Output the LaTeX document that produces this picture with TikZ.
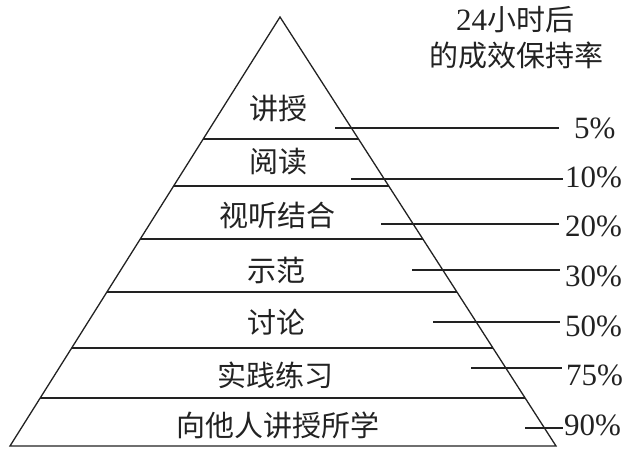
\documentclass[tikz,border=0pt]{standalone}
\usepackage{fontspec}
\setmainfont{Liberation Serif}
\newfontfamily\cjk{Noto Sans CJK SC}
\newfontfamily\lat{Liberation Serif}
\usetikzlibrary{calc}
\definecolor{inkc}{HTML}{222222}
\begin{document}
\begin{tikzpicture}[x=1pt,y=-1pt,
  ink/.style={line width=1.3pt, draw=inkc},
  layer/.style={font=\cjk\fontsize{29}{34}\selectfont, text=inkc, inner sep=0pt},
  pct/.style={font=\lat\fontsize{31}{36}\selectfont, text=inkc, inner sep=0pt, anchor=west},
  leader/.style={line width=1.3pt, draw=inkc}]
\useasboundingbox (0,0) rectangle (629,454);
% pyramid
\coordinate (A) at (280,17);
\coordinate (BL) at (10,446);
\coordinate (BR) at (556,446);
\draw[ink] (A) -- (BL) -- (BR) -- cycle;
\foreach \yy in {139,186,239,292,348,398}{
  \pgfmathsetmacro\t{(\yy-17)/429}
  \draw[ink] ($(A)!\t!(BL)$) -- ($(A)!\t!(BR)$);
}
% layer texts
\node[layer] (l1) at (278,108) {讲授};
\node[layer] (l2) at (278,161.5) {阅读};
\node[layer] (l3) at (277,215) {视听结合};
\node[layer] (l4) at (276,270) {示范};
\node[layer] (l5) at (276,322) {讨论};
\node[layer] (l6) at (275.5,375) {实践练习};
\node[layer] (l7) at (277.5,425) {向他人讲授所学};
% header
\node[layer] (h1) at (515,20) {{\lat\fontsize{31}{36}\selectfont 24}小时后};
\node[layer] (h2) at (516.5,55.5) {的成效保持率};
% percentages
\node[pct] (p1) at (574,128.5) {5\%};
\node[pct] (p2) at (565,177.5) {10\%};
\node[pct] (p3) at (565,226) {20\%};
\node[pct] (p4) at (565,276.5) {30\%};
\node[pct] (p5) at (565,326.5) {50\%};
\node[pct] (p6) at (566,375.5) {75\%};
\node[pct] (p7) at (564,425) {90\%};
% leaders
\coordinate (s1) at (335,128); \coordinate (e1) at (559,128);
\coordinate (s2) at (351,179); \coordinate (e2) at (563,179);
\coordinate (s3) at (381,224); \coordinate (e3) at (559,224);
\coordinate (s4) at (412,270); \coordinate (e4) at (560,270);
\coordinate (s5) at (433,322); \coordinate (e5) at (560,322);
\coordinate (s6) at (471,368); \coordinate (e6) at (562,368);
\coordinate (s7) at (525,428); \coordinate (e7) at (563,428);
\foreach \i in {1,...,7}{
  \draw[leader] (s\i) -- (e\i);
}
\end{tikzpicture}
\end{document}
